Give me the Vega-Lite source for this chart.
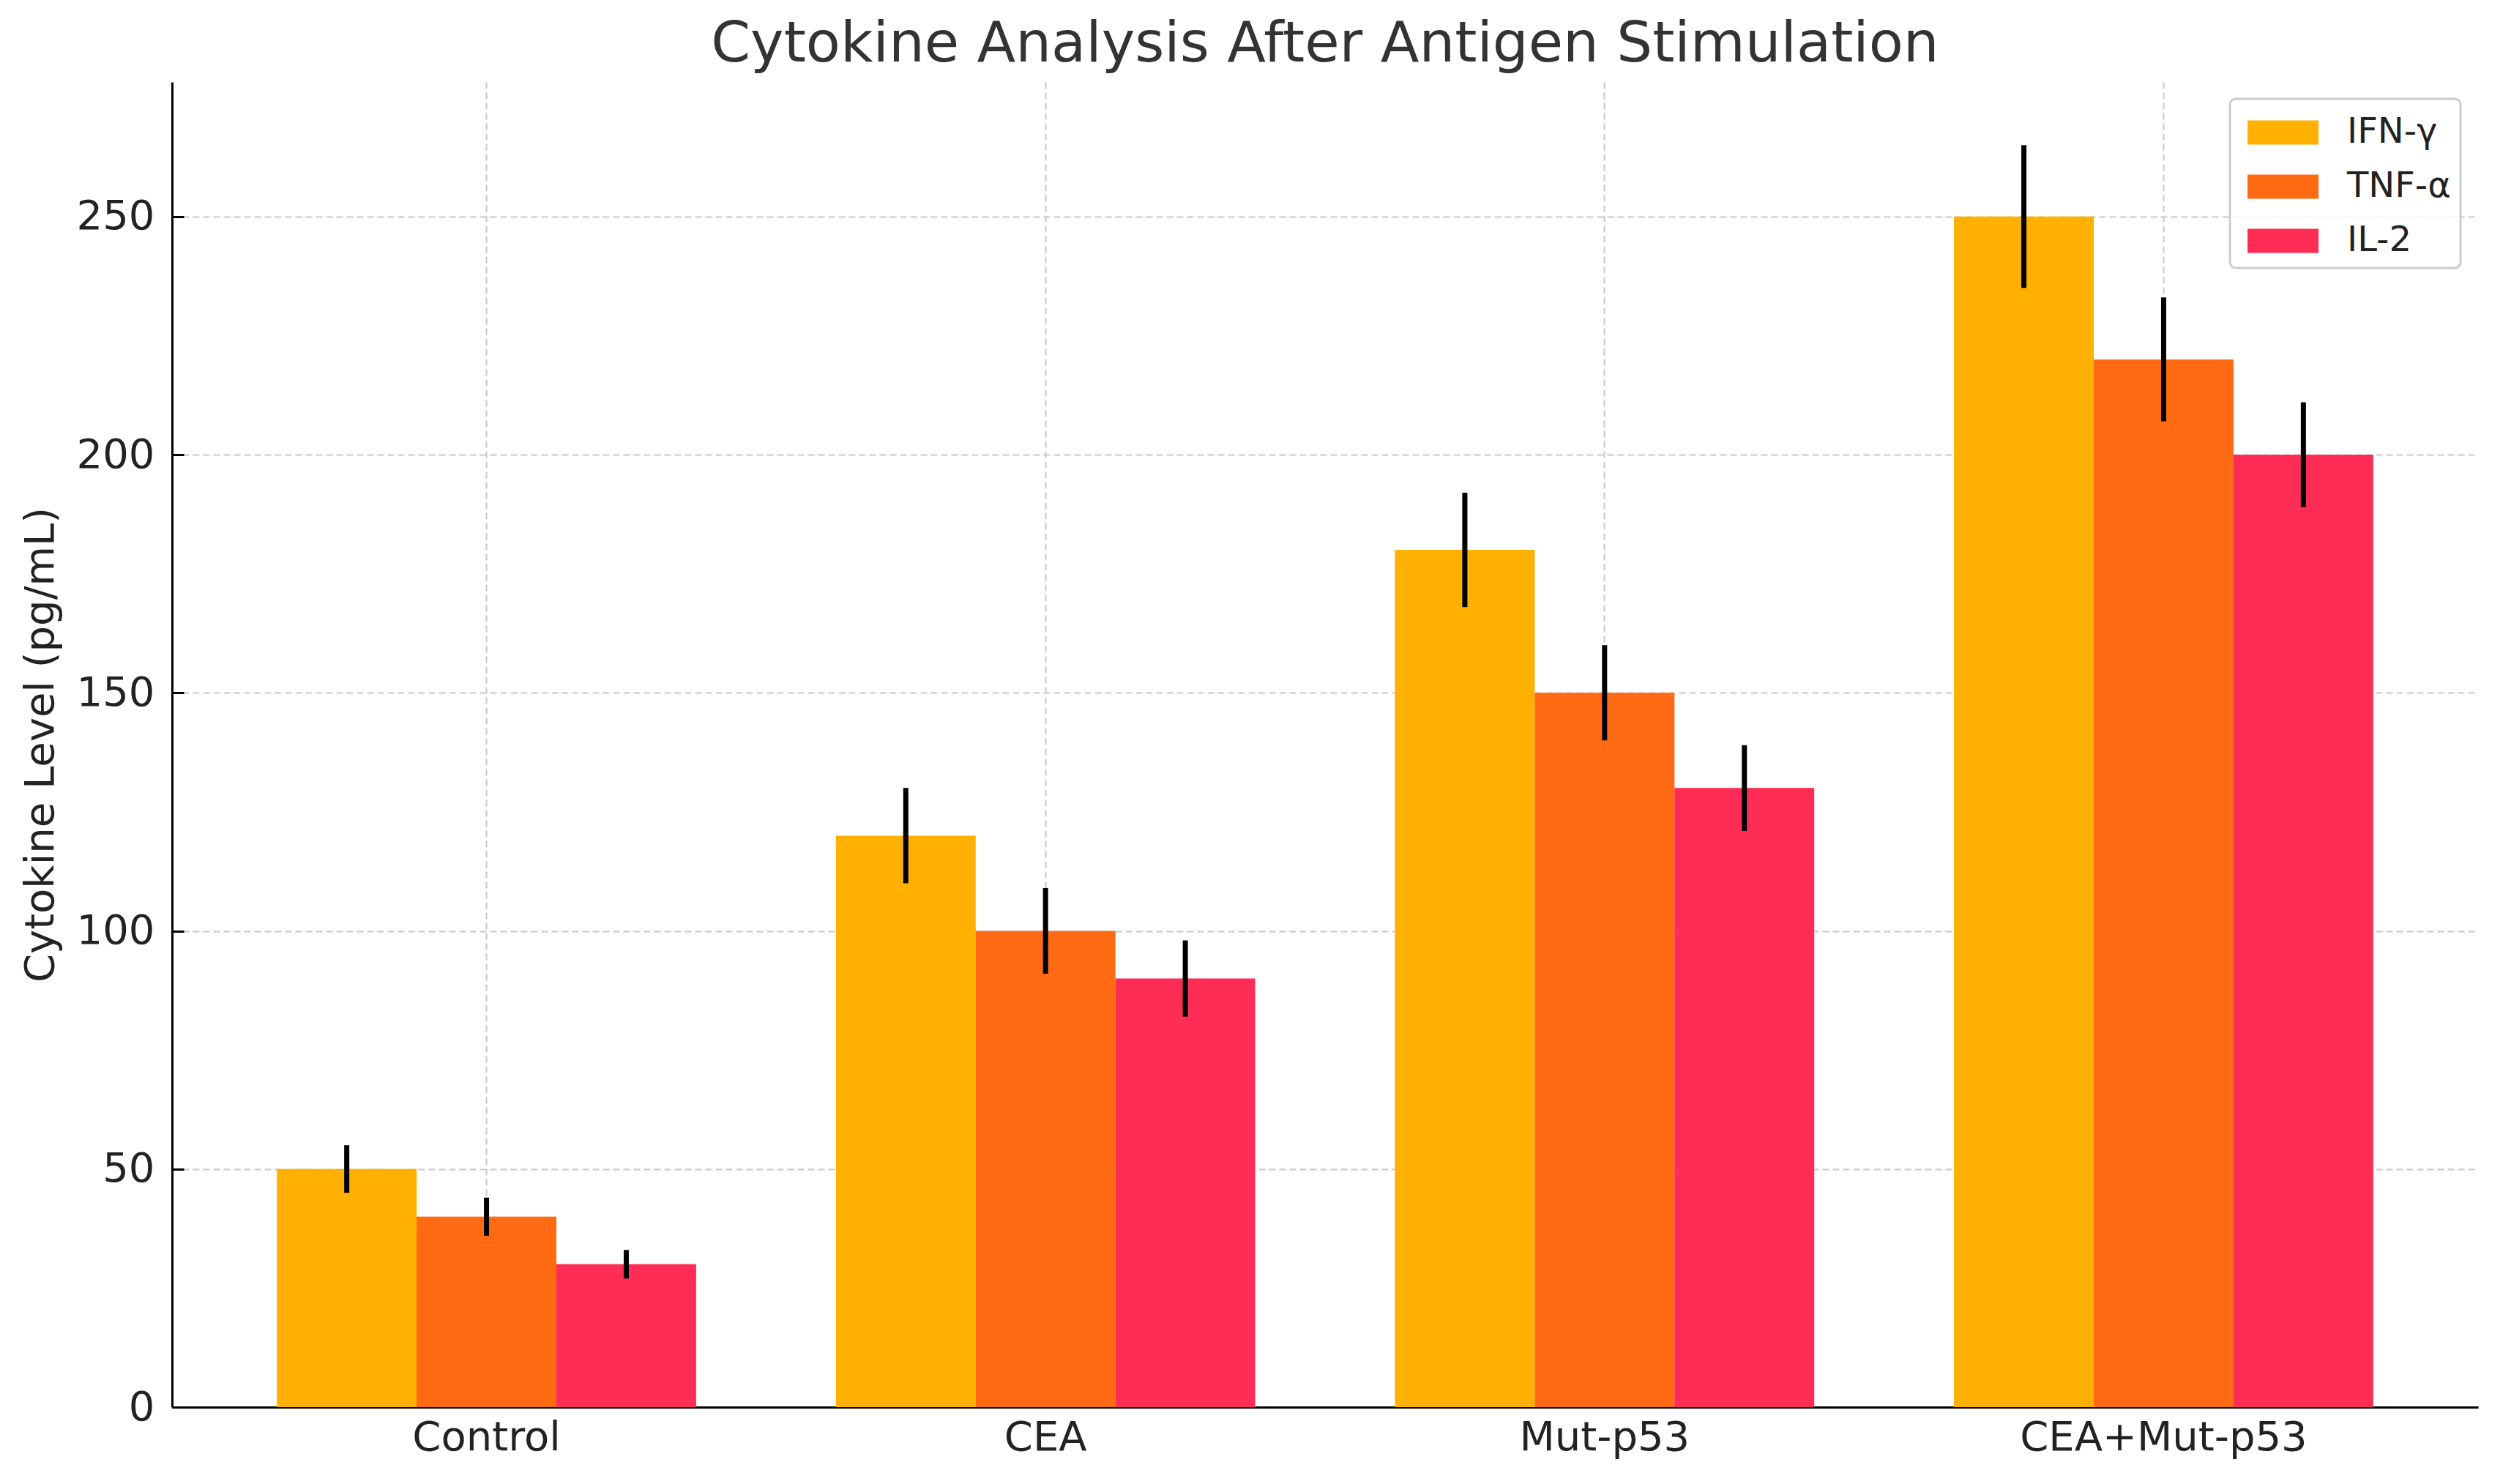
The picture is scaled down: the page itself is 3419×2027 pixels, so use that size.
{
  "$schema": "https://vega.github.io/schema/vega-lite/v6.json",
  "width": 3150,
  "height": 1810,
  "autosize": {"type": "none"},
  "padding": {"left": 235, "top": 112, "right": 34, "bottom": 105},
  "background": "white",
  "title": {
    "text": "Cytokine Analysis After Antigen Stimulation",
    "fontSize": 77,
    "font": "DejaVu Sans",
    "fontWeight": "normal",
    "color": "#333333",
    "anchor": "middle",
    "frame": "group",
    "baseline": "alphabetic",
    "offset": 29,
    "dy": 78
  },
  "config": {
    "view": {"stroke": null},
    "axis": {
      "labelFont": "DejaVu Sans",
      "titleFont": "DejaVu Sans",
      "labelFontSize": 56,
      "titleFontSize": 56,
      "titleFontWeight": "normal",
      "labelColor": "#222222",
      "titleColor": "#222222",
      "domainColor": "#000000",
      "domainWidth": 3,
      "tickColor": "#000000",
      "tickWidth": 3,
      "gridColor": "#c8c8c8",
      "gridDash": [9, 5],
      "gridWidth": 2,
      "labelLimit": 0,
      "zindex": 1
    }
  },
  "data": {
    "values": [
      {"group": "Control", "cytokine": "IFN-γ", "value": 50, "lo": 45, "hi": 55},
      {"group": "Control", "cytokine": "TNF-α", "value": 40, "lo": 36, "hi": 44},
      {"group": "Control", "cytokine": "IL-2", "value": 30, "lo": 27, "hi": 33},
      {"group": "CEA", "cytokine": "IFN-γ", "value": 120, "lo": 110, "hi": 130},
      {"group": "CEA", "cytokine": "TNF-α", "value": 100, "lo": 91, "hi": 109},
      {"group": "CEA", "cytokine": "IL-2", "value": 90, "lo": 82, "hi": 98},
      {"group": "Mut-p53", "cytokine": "IFN-γ", "value": 180, "lo": 168, "hi": 192},
      {"group": "Mut-p53", "cytokine": "TNF-α", "value": 150, "lo": 140, "hi": 160},
      {"group": "Mut-p53", "cytokine": "IL-2", "value": 130, "lo": 121, "hi": 139},
      {"group": "CEA+Mut-p53", "cytokine": "IFN-γ", "value": 250, "lo": 235, "hi": 265},
      {"group": "CEA+Mut-p53", "cytokine": "TNF-α", "value": 220, "lo": 207, "hi": 233},
      {"group": "CEA+Mut-p53", "cytokine": "IL-2", "value": 200, "lo": 189, "hi": 211}
    ]
  },
  "encoding": {
    "x": {
      "field": "group",
      "type": "nominal",
      "sort": ["Control", "CEA", "Mut-p53", "CEA+Mut-p53"],
      "scale": {"paddingInner": 0.25, "paddingOuter": 0.1875},
      "axis": {
        "title": null,
        "labelAngle": 0,
        "labelPadding": 30,
        "tickSize": -16,
        "bandPosition": 0.5,
        "grid": true
      }
    },
    "xOffset": {
      "field": "cytokine",
      "type": "nominal",
      "sort": ["IFN-γ", "TNF-α", "IL-2"],
      "scale": {"paddingInner": 0, "paddingOuter": 0}
    }
  },
  "layer": [
    {
      "mark": {"type": "bar"},
      "encoding": {
        "y": {
          "field": "value",
          "type": "quantitative",
          "scale": {"domain": [0, 278.25], "nice": false, "zero": true},
          "axis": {
            "title": "Cytokine Level (pg/mL)",
            "values": [0, 50, 100, 150, 200, 250],
            "tickSize": -16,
            "labelPadding": 40,
            "titlePadding": 20,
            "grid": true
          }
        },
        "color": {
          "field": "cytokine",
          "type": "nominal",
          "scale": {
            "domain": ["IFN-γ", "TNF-α", "IL-2"],
            "range": ["#FFB000", "#FF6A13", "#FF2D55"]
          },
          "legend": {
            "title": null,
            "orient": "none",
            "legendX": 2811,
            "legendY": 23,
            "symbolType": "M-0.667,-0.5H2.273V0.5H-0.667Z",
            "symbolSize": 4356,
            "symbolStrokeWidth": 0,
            "symbolOpacity": 1,
            "labelFont": "DejaVu Sans",
            "labelFontSize": 48,
            "labelColor": "#222222",
            "labelOffset": 81,
            "padding": 13,
            "rowPadding": 17,
            "strokeColor": "#cccccc",
            "cornerRadius": 8,
            "fillColor": "rgba(255,255,255,0.8)",
            "encode": {"legend": {"update": {"strokeWidth": {"value": 3}}}}
          }
        }
      }
    },
    {
      "mark": {"type": "rule", "strokeWidth": 7, "color": "#000000"},
      "encoding": {
        "y": {"field": "lo", "type": "quantitative"},
        "y2": {"field": "hi"}
      }
    }
  ]
}
